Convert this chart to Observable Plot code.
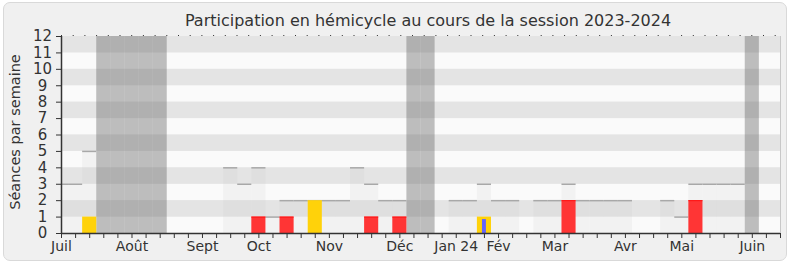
<!DOCTYPE html>
<html><head><meta charset="utf-8">
<script src="https://cdn.jsdelivr.net/npm/d3@7"></script>
<script src="https://cdn.jsdelivr.net/npm/@observablehq/plot@0.6"></script>
<style>
body{margin:0;background:#fff;}
#frame{position:absolute;left:3px;top:2px;width:782px;height:257px;background:#f0f0f0;border:1px solid #d9d9d9;border-radius:7px;}
#chart{position:absolute;left:0;top:0;}
</style></head><body>
<div id="frame"></div><div id="chart"></div>
<script>
const title = "Participation en hémicycle au cours de la session 2023-2024";
const yLabel = "Séances par semaine";
// week index 0..51 (July 2023 -> June 2024)
const sessions      = [3,3,5,0,0,0,0,0,0,0,0,0,4,3,4,1,2,2,2,2,2,4,3,2,2,0,0,0,2,2,3,2,2,0,2,2,3,2,2,2,2,0,0,2,1,3,3,3,3,0,0,0];
const presenceWeeks = [2, 18, 30];
const presenceVals  = [1, 2, 1];
const interWeeks    = [14, 16, 22, 24, 36, 45];
const interVals     = [1, 1, 1, 1, 2, 2];
const questionWeeks = [30];
const questionVals  = [0.85];
const vacationWeeks = [3, 4, 5, 6, 7, 25, 26, 49];
const monthLabels = ["Juil","Août","Sept","Oct","Nov","Déc","Jan 24","Fév","Mar","Avr","Mai","Juin"];
const monthWeeks  = [0, 5, 10, 14, 19, 24, 28, 31, 35, 40, 44, 49];
const yTicks = d3.range(0, 13);

const weeks = d3.range(sessions.length);
const sess = weeks.map(i => ({i, s: sessions[i]})).filter(d => d.s > 0);
const pres = presenceWeeks.map((w, k) => ({i: w, v: presenceVals[k]}));
const inter = interWeeks.map((w, k) => ({i: w, v: interVals[k]}));
const ques = questionWeeks.map((w, k) => ({i: w, v: questionVals[k]}));
const bandsDark = d3.range(1, 12, 2);
const bandsLight = d3.range(0, 12, 2);
const labelMap = new Map(monthWeeks.map((w, k) => [w, monthLabels[k]]));

const chart = Plot.plot({
  width: 790, height: 267,
  marginLeft: 61, marginRight: 10, marginTop: 36, marginBottom: 34,
  style: {background: "none", fontFamily: "DejaVu Sans", fontSize: "14px", color: "#333"},
  x: {domain: [0, 51]},
  y: {domain: [0, 12]},
  marks: [
    Plot.rect(bandsLight, {x1: 0, x2: 51, y1: d => d, y2: d => d + 1, fill: "#fafafa"}),
    Plot.rect(bandsDark, {x1: 0, x2: 51, y1: d => d, y2: d => d + 1, fill: "#e4e4e4"}),
    Plot.rect(vacationWeeks, {x1: d => d - 0.5, x2: d => d + 0.5, y1: 0, y2: 12, fill: "#656565", fillOpacity: 0.41, clip: true}),
    Plot.rect(sess, {x1: d => d.i - 0.5, x2: d => d.i + 0.5, y1: 0, y2: "s", fill: "#c7c7c7", fillOpacity: 0.14, clip: true}),
    Plot.ruleY(sess, {y: "s", x1: d => d.i - 0.5, x2: d => d.i + 0.5, stroke: "#a8a8a8", strokeWidth: 1.5, clip: true}),
    Plot.rect(pres, {x1: d => d.i - 0.5, x2: d => d.i + 0.5, y1: 0, y2: "v", fill: "#ffd20a"}),
    Plot.rect(inter, {x1: d => d.i - 0.5, x2: d => d.i + 0.5, y1: 0, y2: "v", fill: "#ff3535"}),
    Plot.ruleY(inter, {y: "v", x1: d => d.i - 0.5, x2: d => d.i + 0.5, stroke: "#ff1010", strokeWidth: 1}),
    Plot.rect(ques, {x1: d => d.i - 0.14, x2: d => d.i + 0.14, y1: 0, y2: "v", fill: "#6464ff"}),
    Plot.ruleX([51], {stroke: "#c8c8c8"}),
    Plot.ruleY([12], {stroke: "#333", strokeDasharray: "1,10.7", dy: -1}),
    Plot.ruleY([0], {stroke: "#333", strokeWidth: 1.5}),
    Plot.ruleX([0], {stroke: "#333", strokeWidth: 1.5}),
    Plot.axisX({ticks: weeks, tickSize: 5, tickPadding: 3, tickFormat: i => labelMap.get(i) ?? "", fontSize: 14, label: null}),
    Plot.axisY({ticks: yTicks, tickSize: 5, tickPadding: 14, textAnchor: "middle", fontSize: 15, label: null}),
    Plot.text([yLabel], {frameAnchor: "left", dx: -46, dy: -3, rotate: -90, textAnchor: "middle", fontSize: 14.5, fill: "#333"}),
    Plot.text([title], {frameAnchor: "top", dx: 7, dy: -22, fontSize: 16, fill: "#333"})
  ]
});
document.getElementById("chart").appendChild(chart);
</script>
</body></html>
